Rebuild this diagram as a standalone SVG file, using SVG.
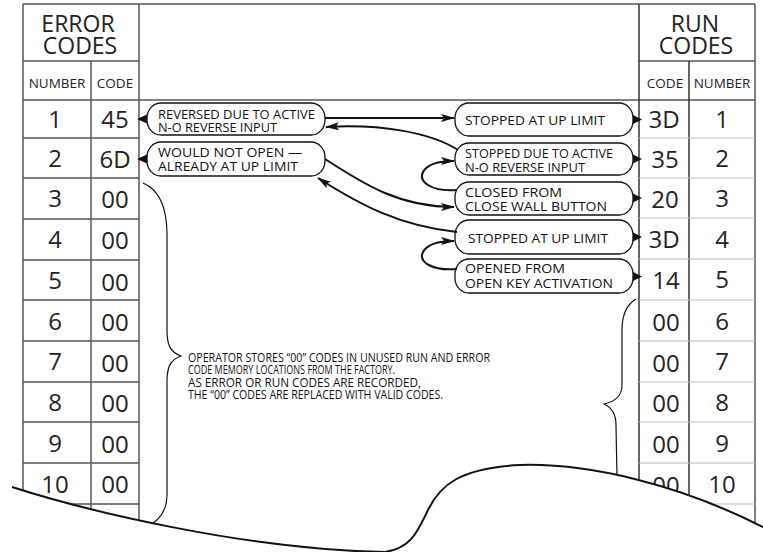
<svg xmlns="http://www.w3.org/2000/svg" width="763" height="552" viewBox="0 0 763 552">
<style>
.tl{stroke:#555;stroke-width:1.5;fill:none}
.vl{stroke:#333;stroke-width:1.5;fill:none}
.rl{stroke:#bbb;stroke-width:1.2;fill:none}
.big{font-family:"Open Sans","Liberation Sans",sans-serif;font-size:24px;fill:#222;text-anchor:middle}
.hh{font-family:"Open Sans","Liberation Sans",sans-serif;font-size:23px;fill:#222;text-anchor:middle}
.hd{font-family:"Open Sans","Liberation Sans",sans-serif;font-size:13.5px;fill:#222;text-anchor:middle}
.bx{font-family:"Open Sans","Liberation Sans",sans-serif;font-size:12.5px;fill:#111}
.nt{font-family:"Open Sans","Liberation Sans",sans-serif;font-size:12.5px;fill:#111}
.pill{fill:#fff;stroke:#111;stroke-width:1.3}
.cn{fill:none;stroke:#111;stroke-width:2;marker-end:url(#ah)}
.br{fill:none;stroke:#111;stroke-width:1.2}
</style>
<defs>
<marker id="ah" viewBox="0 0 14 8" refX="13" refY="4" markerWidth="14" markerHeight="8" orient="auto" markerUnits="userSpaceOnUse"><path d="M0,0 L14,4 L0,8 L3,4 Z" fill="#111"/></marker>
</defs>
<rect width="763" height="552" fill="#fff"/>
<g id="frame">
<line class="tl" x1="23" y1="4" x2="755" y2="4"/>
<line class="tl" x1="23" y1="100" x2="755" y2="100"/>
<line class="tl" x1="23" y1="61" x2="139" y2="61"/>
<line class="tl" x1="639" y1="61" x2="755" y2="61"/>
<line class="tl" x1="23" y1="4" x2="23" y2="552"/>
<line class="tl" x1="91" y1="61" x2="91" y2="552"/>
<line class="tl" x1="139" y1="4" x2="139" y2="552"/>
<line class="vl" x1="639" y1="4" x2="639" y2="552"/>
<line class="vl" x1="689" y1="61" x2="689" y2="552"/>
<line class="tl" x1="755" y1="4" x2="755" y2="552"/>
</g>
<g id="error-table">
<g class="tl">
<line x1="23" y1="138" x2="139" y2="138"/>
<line x1="23" y1="178" x2="139" y2="178"/>
<line x1="23" y1="219" x2="139" y2="219"/>
<line x1="23" y1="260" x2="139" y2="260"/>
<line x1="23" y1="300" x2="139" y2="300"/>
<line x1="23" y1="341" x2="139" y2="341"/>
<line x1="23" y1="382" x2="139" y2="382"/>
<line x1="23" y1="422" x2="139" y2="422"/>
<line x1="23" y1="463" x2="139" y2="463"/>
<line x1="23" y1="504" x2="139" y2="504"/>
</g>
<text class="hh" x="78" y="32">ERROR</text>
<text class="hh" x="80" y="54">CODES</text>
<text class="hd" x="57" y="88">NUMBER</text>
<text class="hd" x="115" y="88">CODE</text>
<text class="big" x="55" y="128">1</text><text class="big" x="115" y="128">45</text>
<text class="big" x="55" y="167">2</text><text class="big" x="115" y="168">6D</text>
<text class="big" x="55" y="207">3</text><text class="big" x="115" y="208">00</text>
<text class="big" x="55" y="248">4</text><text class="big" x="115" y="249">00</text>
<text class="big" x="55" y="289">5</text><text class="big" x="115" y="291">00</text>
<text class="big" x="55" y="330">6</text><text class="big" x="115" y="331">00</text>
<text class="big" x="55" y="370">7</text><text class="big" x="115" y="372">00</text>
<text class="big" x="55" y="411">8</text><text class="big" x="115" y="412">00</text>
<text class="big" x="55" y="452">9</text><text class="big" x="115" y="453">00</text>
<text class="big" x="55" y="493">10</text><text class="big" x="115" y="493">00</text>
</g>
<g id="run-table">
<g class="rl">
<line x1="639" y1="138" x2="755" y2="138"/>
<line x1="639" y1="178" x2="755" y2="178"/>
<line x1="639" y1="218" x2="755" y2="218"/>
<line x1="639" y1="259" x2="755" y2="259"/>
<line x1="639" y1="300" x2="755" y2="300"/>
<line x1="639" y1="341" x2="755" y2="341"/>
<line x1="639" y1="382" x2="755" y2="382"/>
<line x1="639" y1="422" x2="755" y2="422"/>
<line x1="639" y1="463" x2="755" y2="463"/>
<line x1="639" y1="504" x2="755" y2="504"/>
</g>
<text class="hh" x="695" y="32">RUN</text>
<text class="hh" x="696" y="54">CODES</text>
<text class="hd" x="665" y="88">CODE</text>
<text class="hd" x="722" y="88">NUMBER</text>
<text class="big" x="664" y="128">3D</text><text class="big" x="722" y="128">1</text>
<text class="big" x="665" y="168">35</text><text class="big" x="722" y="167">2</text>
<text class="big" x="665" y="208">20</text><text class="big" x="722" y="207">3</text>
<text class="big" x="664" y="248">3D</text><text class="big" x="722" y="248">4</text>
<text class="big" x="666" y="289">14</text><text class="big" x="722" y="288">5</text>
<text class="big" x="666" y="331">00</text><text class="big" x="722" y="330">6</text>
<text class="big" x="666" y="372">00</text><text class="big" x="722" y="370">7</text>
<text class="big" x="666" y="412">00</text><text class="big" x="722" y="411">8</text>
<text class="big" x="666" y="453">00</text><text class="big" x="722" y="452">9</text>
<text class="big" x="666" y="494">00</text><text class="big" x="722" y="493">10</text>
</g>
<g id="err1">
<rect class="pill" x="147" y="103" width="178" height="32" rx="14" ry="15"/>
<polygon points="137,119 147,114.5 147,123.5" fill="#111"/>
<text class="bx" x="158" y="119" textLength="157" lengthAdjust="spacingAndGlyphs">REVERSED DUE TO ACTIVE</text>
<text class="bx" x="158" y="132" textLength="119" lengthAdjust="spacingAndGlyphs">N-O REVERSE INPUT</text>
</g>
<g id="err2">
<rect class="pill" x="147" y="142" width="178" height="34" rx="14" ry="15"/>
<polygon points="137,159 147,154.5 147,163.5" fill="#111"/>
<text class="bx" x="158" y="157" textLength="144" lengthAdjust="spacingAndGlyphs">WOULD NOT OPEN —</text>
<text class="bx" x="158" y="171" textLength="140" lengthAdjust="spacingAndGlyphs">ALREADY AT UP LIMIT</text>
</g>
<g id="run1">
<rect class="pill" x="455" y="103" width="178" height="33" rx="14" ry="15"/>
<polygon points="633,115 642,119.5 633,124" fill="#111"/>
<text class="bx" x="465" y="125" textLength="140" lengthAdjust="spacingAndGlyphs">STOPPED AT UP LIMIT</text>
</g>
<g id="run2">
<rect class="pill" x="455" y="143" width="178" height="32" rx="14" ry="15"/>
<polygon points="633,154.5 642,159 633,163.5" fill="#111"/>
<text class="bx" x="465" y="158" textLength="148" lengthAdjust="spacingAndGlyphs">STOPPED DUE TO ACTIVE</text>
<text class="bx" x="465" y="172" textLength="120" lengthAdjust="spacingAndGlyphs">N-O REVERSE INPUT</text>
</g>
<g id="run3">
<rect class="pill" x="455" y="182" width="178" height="33" rx="14" ry="15"/>
<polygon points="633,193.5 642,198 633,202.5" fill="#111"/>
<text class="bx" x="465" y="197" textLength="97" lengthAdjust="spacingAndGlyphs">CLOSED FROM</text>
<text class="bx" x="465" y="211" textLength="142" lengthAdjust="spacingAndGlyphs">CLOSE WALL BUTTON</text>
</g>
<g id="run4">
<rect class="pill" x="455" y="220" width="178" height="34" rx="14" ry="15"/>
<polygon points="633,232.5 642,237 633,241.5" fill="#111"/>
<text class="bx" x="468" y="243" textLength="140" lengthAdjust="spacingAndGlyphs">STOPPED AT UP LIMIT</text>
</g>
<g id="run5">
<rect class="pill" x="455" y="259" width="178" height="34" rx="14" ry="15"/>
<polygon points="633,272 642,276.5 633,281" fill="#111"/>
<text class="bx" x="465" y="273" textLength="100" lengthAdjust="spacingAndGlyphs">OPENED FROM</text>
<text class="bx" x="465" y="288" textLength="148" lengthAdjust="spacingAndGlyphs">OPEN KEY ACTIVATION</text>
</g>
<g id="connectors">
<path class="cn" d="M325,118 L454,118"/>
<path class="cn" d="M458,150 C430,132 380,124 326,127"/>
<path class="cn" d="M457,190 C432,192 418,182 423,172 C428,163 440,161 454,161"/>
<path class="cn" d="M325,159 C365,185 400,207 454,207"/>
<path class="cn" d="M457,232 C400,226 360,205 318,178"/>
<path class="cn" d="M457,269 C432,271 418,262 423,252 C428,243 440,241 454,241"/>
</g>
<g id="note">
<path class="br" d="M143,183 C160,190 167,210 167,235 L167,330 C167,345 170,352 181,356 C170,360 167,367 167,382 L167,495 C167,512 158,522 145,528"/>
<path class="br" d="M636,299 C626,305 622,315 622,330 L622,385 C622,395 617,401 604,404 C613,408 616,415 616,425 L617,478"/>
<text class="nt" x="188" y="361.5" textLength="302" lengthAdjust="spacingAndGlyphs">OPERATOR STORES “00” CODES IN UNUSED RUN AND ERROR</text>
<text class="nt" x="188" y="374" textLength="207" lengthAdjust="spacingAndGlyphs">CODE MEMORY LOCATIONS FROM THE FACTORY.</text>
<text class="nt" x="188" y="386.5" textLength="233" lengthAdjust="spacingAndGlyphs">AS ERROR OR RUN CODES ARE RECORDED,</text>
<text class="nt" x="188" y="399" textLength="255" lengthAdjust="spacingAndGlyphs">THE “00” CODES ARE REPLACED WITH VALID CODES.</text>
</g>
<g id="torn-edge">
<path d="M12,487 C90,512 250,550 385,552 C412,548 418,530 428,510 C440,485 460,468 520,465 C590,463 680,485 763,527 L763,552 L0,552 L0,487 Z" fill="#fff"/>
<path d="M12,487 C90,512 250,550 385,552 C412,548 418,530 428,510 C440,485 460,468 520,465 C590,463 680,485 763,527" fill="none" stroke="#111" stroke-width="2"/>
</g>
</svg>
